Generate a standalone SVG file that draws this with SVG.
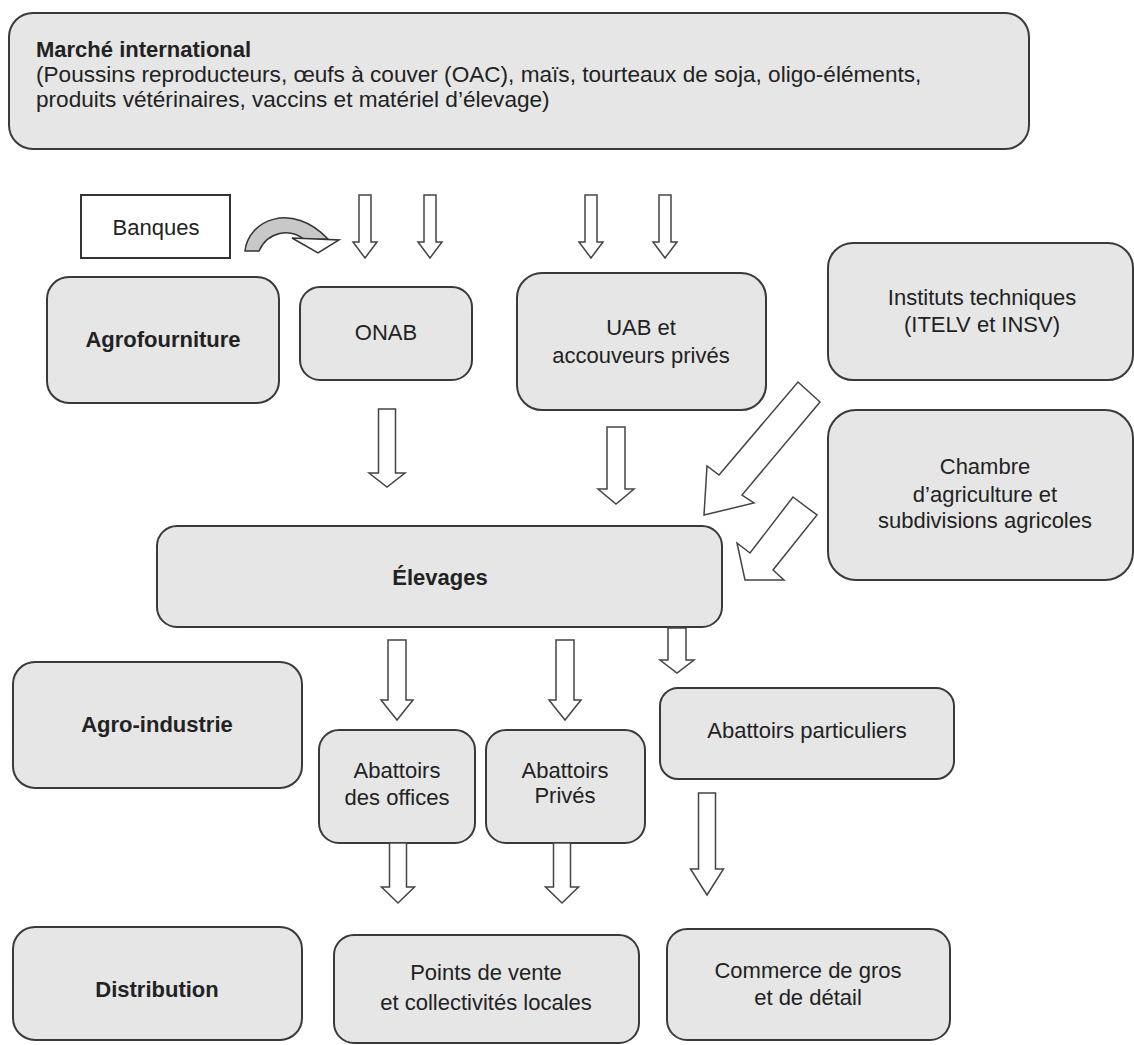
<svg xmlns="http://www.w3.org/2000/svg" width="1134" height="1045" viewBox="0 0 1134 1045">
<style>
.box{fill:#e6e6e6;stroke:#3a3a3a;stroke-width:2}
.wbox{fill:#ffffff;stroke:#333;stroke-width:2}
.t{font-family:"Liberation Sans",Arial,sans-serif;font-size:22px;fill:#222}
.c{text-anchor:middle}
.b{font-weight:bold}
.arr{fill:#ffffff;stroke:#444;stroke-width:1.5;stroke-linejoin:miter}
</style>
<rect width="1134" height="1045" fill="#ffffff"/>
<g id="marche">
<rect class="box" x="9" y="13" width="1020" height="136" rx="24"/>
<text class="t b" x="36" y="57">Marché international</text>
<text class="t" x="36" y="82" style="font-size:22.6px">(Poussins reproducteurs, œufs à couver (OAC), maïs, tourteaux de soja, oligo-éléments,</text>
<text class="t" x="36" y="107" style="font-size:22.6px">produits vétérinaires, vaccins et matériel d’élevage)</text>
</g>
<g id="banques">
<rect class="wbox" x="81" y="195" width="149" height="63"/>
<text class="t c" x="156" y="235">Banques</text>
</g>
<g id="agrofourniture">
<rect class="box" x="47" y="277" width="232" height="126" rx="22"/>
<text class="t c b" x="163" y="347">Agrofourniture</text>
</g>
<g id="onab">
<rect class="box" x="300" y="287" width="172" height="93" rx="20"/>
<text class="t c" x="386" y="340">ONAB</text>
</g>
<g id="uab">
<rect class="box" x="517" y="273" width="249" height="137" rx="25"/>
<text class="t c" x="641" y="335">UAB et</text>
<text class="t c" x="641" y="363">accouveurs privés</text>
</g>
<g id="instituts">
<rect class="box" x="828" y="243" width="305" height="137" rx="25"/>
<text class="t c" x="982" y="305">Instituts techniques</text>
<text class="t c" x="982" y="332">(ITELV et INSV)</text>
</g>
<g id="chambre">
<rect class="box" x="828" y="410" width="305" height="170" rx="28"/>
<text class="t c" x="985" y="474">Chambre</text>
<text class="t c" x="985" y="502">d’agriculture et</text>
<text class="t c" x="985" y="528">subdivisions agricoles</text>
</g>
<g id="elevages">
<rect class="box" x="157" y="526" width="565" height="101" rx="20"/>
<text class="t c b" x="440" y="585">Élevages</text>
</g>
<g id="agroindustrie">
<rect class="box" x="13" y="662" width="289" height="126" rx="22"/>
<text class="t c b" x="157" y="732">Agro-industrie</text>
</g>
<g id="abattoirs-offices">
<rect class="box" x="319" y="730" width="156" height="113" rx="20"/>
<text class="t c" x="397" y="778">Abattoirs</text>
<text class="t c" x="397" y="805">des offices</text>
</g>
<g id="abattoirs-prives">
<rect class="box" x="486" y="730" width="159" height="113" rx="20"/>
<text class="t c" x="565" y="778">Abattoirs</text>
<text class="t c" x="565" y="803">Privés</text>
</g>
<g id="abattoirs-particuliers">
<rect class="box" x="660" y="688" width="294" height="91" rx="18"/>
<text class="t c" x="807" y="738">Abattoirs particuliers</text>
</g>
<g id="distribution">
<rect class="box" x="13" y="927" width="289" height="113" rx="22"/>
<text class="t c b" x="157" y="997">Distribution</text>
</g>
<g id="points-vente">
<rect class="box" x="334" y="935" width="305" height="108" rx="20"/>
<text class="t c" x="486" y="980">Points de vente</text>
<text class="t c" x="486" y="1010">et collectivités locales</text>
</g>
<g id="commerce">
<rect class="box" x="667" y="929" width="283" height="111" rx="20"/>
<text class="t c" x="808" y="978">Commerce de gros</text>
<text class="t c" x="808" y="1005">et de détail</text>
</g>
<g id="connectors">
<path d="M245,251 C248,220 292,201 328,239 L305,240 C290,228 268,231 259,251 Z" fill="#c8c8c8" stroke="#333" stroke-width="1.5"/>
<polygon points="292,238 339,240 318,253" fill="#ffffff" stroke="#333" stroke-width="1.5"/>
<polygon class="arr" points="359,195 371,195 371,242 377,242 365,258 353,242 359,242"/>
<polygon class="arr" points="424,195 436,195 436,242 442,242 430,258 418,242 424,242"/>
<polygon class="arr" points="585,195 597,195 597,242 603,242 591,258 579,242 585,242"/>
<polygon class="arr" points="659,195 671,195 671,242 677,242 665,258 653,242 659,242"/>
<polygon class="arr" points="378.5,409 395.5,409 395.5,473 405,473 387,487 369,473 378.5,473"/>
<polygon class="arr" points="607,427 625,427 625,489 634,489 616,504 598,489 607,489"/>
<polygon class="arr" points="798,382 820,402 742,495 754,503 704,515 707,466 719,475"/>
<polygon class="arr" points="793,497 817,515 773,570 784,580 745,580 737,543 750,553"/>
<polygon class="arr" points="388,640 406,640 406,700 413,700 397,720 381,700 388,700"/>
<polygon class="arr" points="556,640 574,640 574,700 581,700 565,720 549,700 556,700"/>
<polygon class="arr" points="668,628 686,628 686,660 694,660 677,673 660,660 668,660"/>
<polygon class="arr" points="389.5,843 406.5,843 406.5,887 414.5,887 398,903 381.5,887 389.5,887"/>
<polygon class="arr" points="553.5,843 570.5,843 570.5,887 578.5,887 562,903 545.5,887 553.5,887"/>
<polygon class="arr" points="698.5,793 715.5,793 715.5,869 723.5,869 707,895 690.5,869 698.5,869"/>
</g>
</svg>
